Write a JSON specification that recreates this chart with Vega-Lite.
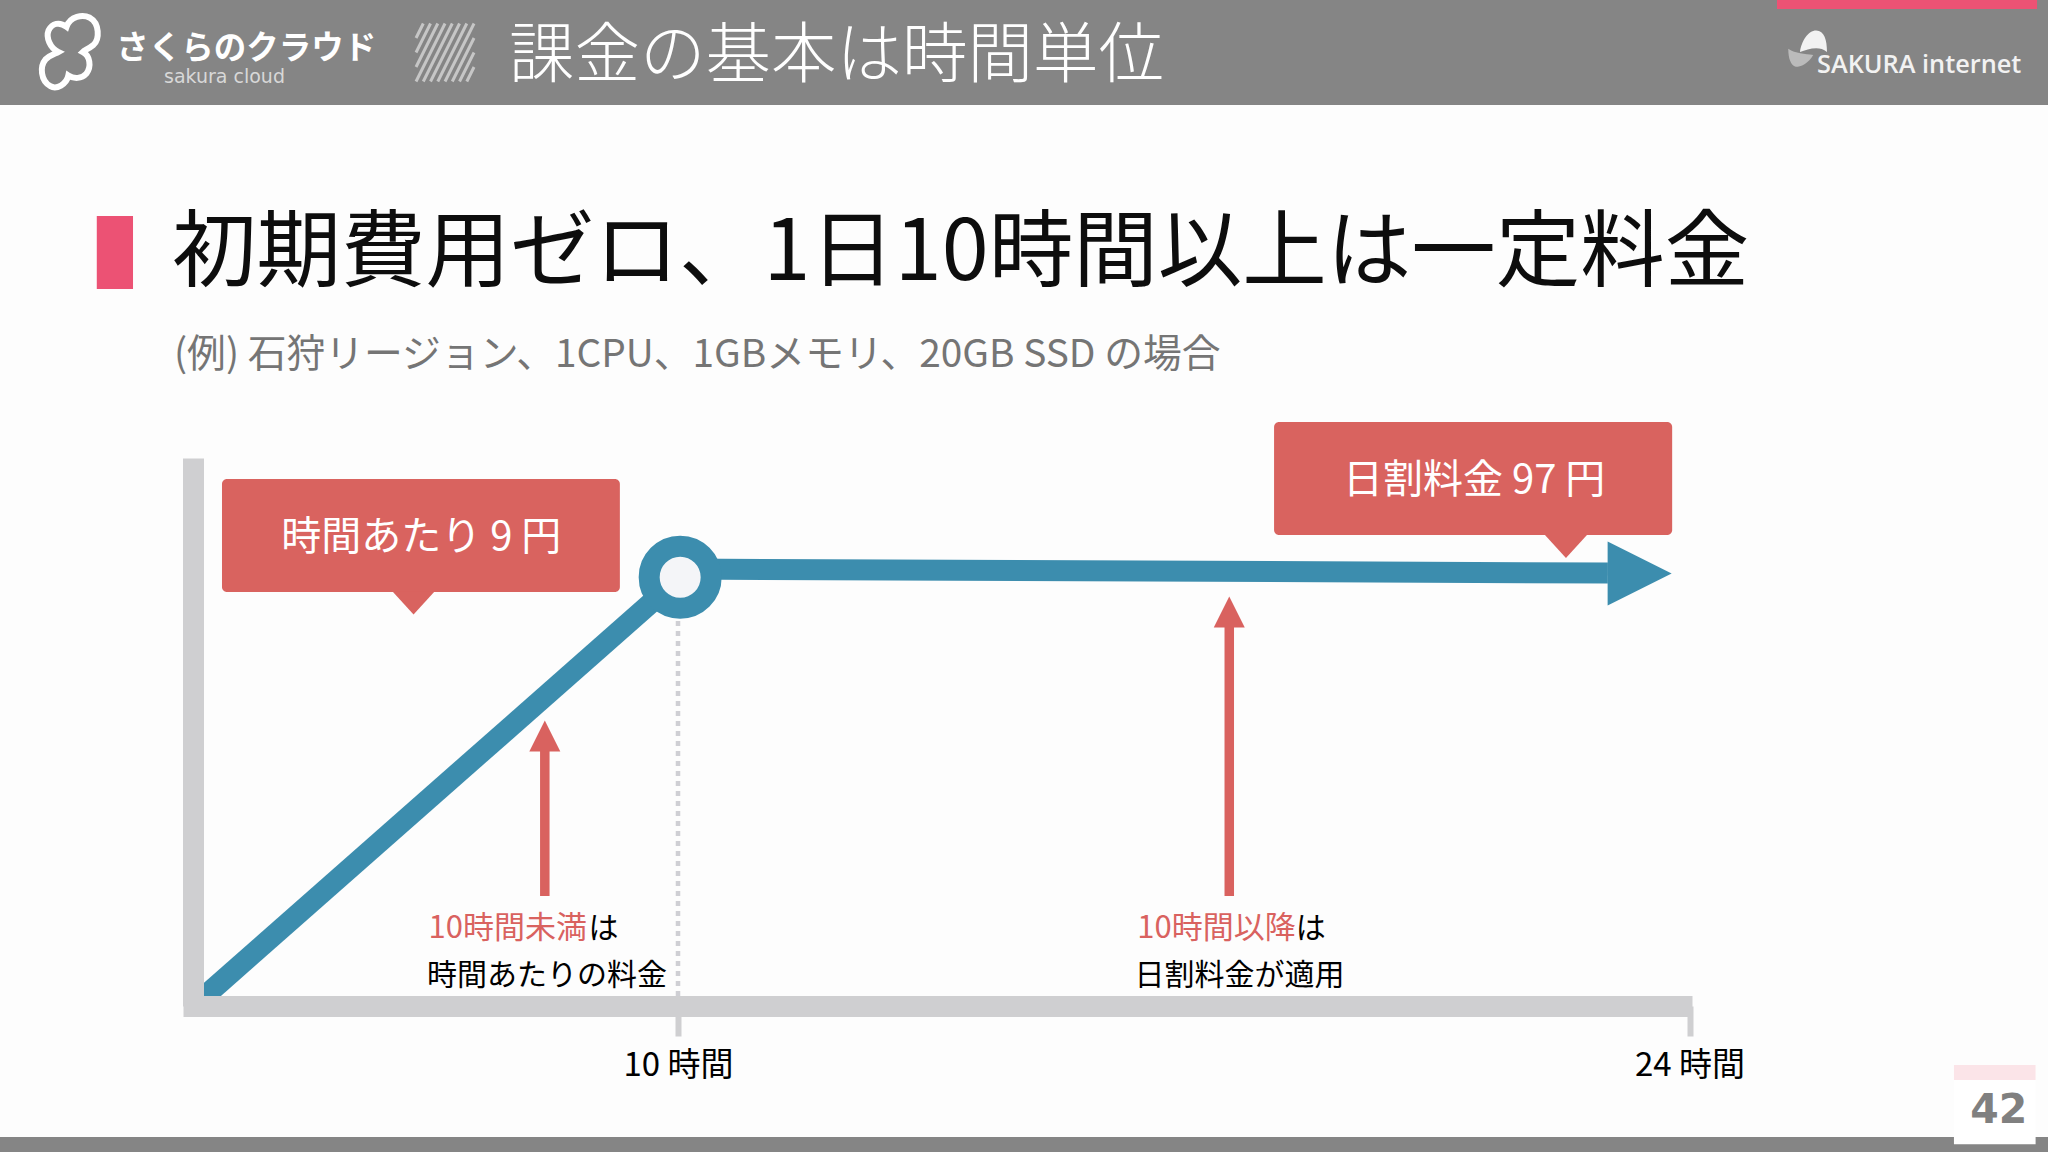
{
  "$schema": "https://vega.github.io/schema/vega-lite/v6.json",
  "width": 1509,
  "height": 548,
  "autosize": "none",
  "padding": {"left": 183, "top": 458, "right": 356, "bottom": 146},
  "background": "#fdfdfd",
  "config": {"view": {"stroke": null}, "text": {"font": "Noto Sans CJK JP"}},
  "encoding": {
    "x": {
      "field": "hours",
      "type": "quantitative",
      "scale": {"domain": [-0.22, 10, 24, 24.0346], "range": [0, 495, 1506.5, 1509]},
      "axis": {
        "title": null, "grid": false, "values": [10, 24], "labelExpr": "datum.value + ' 時間'",
        "domainColor": "#cfcfd1", "domainWidth": 21, "tickColor": "#cfcfd1", "tickWidth": 6, "tickSize": 30,
        "labelFont": "Noto Sans CJK JP", "labelFontSize": 33, "labelColor": "#000000", "labelPadding": 13,
        "labelOverlap": false, "zindex": 1
      }
    },
    "y": {
      "field": "yen",
      "type": "quantitative",
      "scale": {"domain": [0, 115], "range": [548, 0]},
      "axis": {
        "title": null, "grid": false, "values": [], "ticks": false, "labels": false,
        "domainColor": "#cfcfd1", "domainWidth": 21, "offset": -10, "zindex": 1
      }
    }
  },
  "layer": [
    {
      "data": {"values": [
        {"hours": -4, "hours2": 29, "yen": 211.2, "yen2": 189.1},
        {"hours": -4, "hours2": 29, "yen": -27.5, "yen2": -31}
      ]},
      "mark": {"type": "rect", "color": "#858585"},
      "encoding": {"x2": {"field": "hours2"}, "y2": {"field": "yen2"}}
    },
    {
      "data": {"values": [{"hours": 27.66, "hours2": 28.79, "yen": -12.4, "yen2": -29}]},
      "mark": {"type": "rect", "color": "#ffffff"},
      "encoding": {"x2": {"field": "hours2"}, "y2": {"field": "yen2"}}
    },
    {
      "data": {"values": [{"hours": 27.66, "hours2": 28.79, "yen": -12.38, "yen2": -15.53}]},
      "mark": {"type": "rect", "color": "#fbe4e8"},
      "encoding": {"x2": {"field": "hours2"}, "y2": {"field": "yen2"}}
    },
    {
      "data": {"values": [
        {"hours": 25.211, "hours2": 28.81, "yen": 211.2, "yen2": 209.23},
        {"hours": -2.0, "hours2": -1.252, "yen": 165.79, "yen2": 150.47}
      ]},
      "mark": {"type": "rect", "color": "#ec5274"},
      "encoding": {"x2": {"field": "hours2"}, "y2": {"field": "yen2"}}
    },
    {
      "data": {"values": [{"hours": -2.55, "yen": 200.2}]},
      "mark": {
        "type": "point", "filled": false, "opacity": 1, "stroke": "#ffffff", "strokeWidth": 6, "size": 5184,
        "shape": "M-0.1,-0.7C0,-1 0.35,-1.05 0.55,-0.95C0.82,-0.8 0.82,-0.35 0.65,-0.2C0.5,-0.08 0.4,-0.05 0.35,0C0.55,0.1 0.6,0.4 0.45,0.6C0.32,0.75 0.1,0.75 -0.05,0.65C-0.1,0.9 -0.38,1.05 -0.55,0.95C-0.82,0.8 -0.85,0.4 -0.68,0.2C-0.55,0.08 -0.42,0.05 -0.33,0C-0.55,-0.1 -0.68,-0.4 -0.6,-0.6C-0.5,-0.8 -0.3,-0.85 -0.1,-0.7Z"
      }
    },
    {
      "data": {"values": [{"hours": 5.19, "yen": 200.1}]},
      "mark": {
        "type": "point", "filled": false, "opacity": 1, "stroke": "#c6c6c6", "strokeWidth": 3, "size": 3364,
        "shape": "M-1,-0.5L-0.75,-1M-1,0L-0.5,-1M-1,0.5L-0.25,-1M-1,1L0,-1M-0.75,1L0.25,-1M-0.5,1L0.5,-1M-0.25,1L0.75,-1M0,1L1,-1M0.25,1L1,-0.5M0.5,1L1,0M0.75,1L1,0.5"
      }
    },
    {
      "data": {"values": [{"hours": 25.716, "yen": 201.9}]},
      "mark": {
        "type": "point", "filled": true, "opacity": 1, "color": "#f2f2f2", "size": 729,
        "shape": "M-1,0.6C-0.9,-0.2 -0.4,-1 0.2,-1C0.8,-1 1,-0.3 1,0.6C0.4,0.1 -0.4,0.4 -1,0.6Z"
      }
    },
    {
      "data": {"values": [{"hours": 25.54, "yen": 199.06}]},
      "mark": {
        "type": "point", "filled": true, "opacity": 1, "color": "#bbbbbb", "size": 625,
        "shape": "M-1,-0.7C-0.4,-0.3 0.3,-0.3 1,-0.2C0.6,0.5 0,0.75 -0.4,0.75C-0.8,0.6 -1,0.1 -1,-0.7Z"
      }
    },
    {
      "data": {"values": [{"label": "課金の基本は時間単位", "hours": 6.51, "yen": 199.15}]},
      "mark": {"type": "text", "align": "left", "baseline": "middle", "fontSize": 65.5, "fontWeight": 300, "color": "#ffffff"},
      "encoding": {"text": {"field": "label"}}
    },
    {
      "data": {"values": [{"label": "さくらのクラウド", "hours": -1.6, "yen": 200.9}]},
      "mark": {"type": "text", "align": "left", "baseline": "middle", "fontSize": 32.5, "fontWeight": 700, "color": "#ffffff"},
      "encoding": {"text": {"field": "label"}}
    },
    {
      "data": {"values": [{"label": "sakura cloud", "hours": -0.612, "yen": 194.9}]},
      "mark": {"type": "text", "align": "left", "baseline": "middle", "font": "DejaVu Sans", "fontSize": 19, "color": "#d8d8d8"},
      "encoding": {"text": {"field": "label"}}
    },
    {
      "data": {"values": [{"label": "SAKURA internet", "hours": 25.765, "yen": 197.5}]},
      "mark": {"type": "text", "align": "left", "baseline": "middle", "font": "Open Sans", "fontSize": 25.3, "fontWeight": 600, "color": "#f2f2f2"},
      "encoding": {"text": {"field": "label"}}
    },
    {
      "data": {"values": [{"label": "初期費用ゼロ、1日10時間以上は一定料金", "hours": -0.448, "yen": 157.6}]},
      "mark": {"type": "text", "align": "left", "baseline": "middle", "fontSize": 84.5, "color": "#0d0d0d"},
      "encoding": {"text": {"field": "label"}}
    },
    {
      "data": {"values": [{"label": "(例) 石狩リージョン、1CPU、1GBメモリ、20GB SSD の場合", "hours": -0.406, "yen": 136.6}]},
      "mark": {"type": "text", "align": "left", "baseline": "middle", "fontSize": 38.8, "color": "#757575"},
      "encoding": {"text": {"field": "label"}}
    },
    {
      "data": {"values": [{"hours": 10, "yen": 2.1, "yen2": 81}]},
      "mark": {"type": "rule", "color": "#cfcfd4", "strokeWidth": 4.5, "strokeDash": [5, 5]},
      "encoding": {"y2": {"field": "yen2"}}
    },
    {
      "data": {"values": [
        {"segment": "hourly", "hours": 0, "yen": 0},
        {"segment": "hourly", "hours": 10.03, "yen": 90},
        {"segment": "daily", "hours": 10.03, "yen": 91.7},
        {"segment": "daily", "hours": 22.87, "yen": 90.87}
      ]},
      "mark": {"type": "line", "color": "#3c8dae", "strokeWidth": 21, "strokeCap": "butt"},
      "encoding": {"detail": {"field": "segment"}}
    },
    {
      "data": {"values": [{"hours": 23.31, "yen": 90.77}]},
      "mark": {"type": "point", "filled": true, "opacity": 1, "color": "#3c8dae", "size": 4096, "shape": "M-1,-1L1,0L-1,1Z"}
    },
    {
      "data": {"values": [{"hours": 10.03, "yen": 90}]},
      "mark": {"type": "point", "filled": true, "opacity": 1, "fill": "#f4f5f8", "stroke": "#3c8dae", "strokeWidth": 21, "size": 3844, "shape": "circle"}
    },
    {
      "data": {"values": [
        {"hours": 0.585, "hours2": 8.8, "yen": 110.6, "yen2": 86.88},
        {"hours": 18.25, "hours2": 23.76, "yen": 122.56, "yen2": 98.85}
      ]},
      "mark": {"type": "rect", "color": "#d9635f", "cornerRadius": 5},
      "encoding": {"x2": {"field": "hours2"}, "y2": {"field": "yen2"}}
    },
    {
      "data": {"values": [{"hours": 4.54, "yen": 84.57}, {"hours": 22.29, "yen": 96.43}]},
      "mark": {"type": "point", "filled": true, "opacity": 1, "color": "#d9635f", "size": 1764, "shape": "M-1,-0.55L1,-0.55L0,0.55Z"}
    },
    {
      "data": {"values": [
        {"label": "時間あたり 9 円", "hours": 4.7, "yen": 98.2},
        {"label": "日割料金 97 円", "hours": 21.02, "yen": 110.2}
      ]},
      "mark": {"type": "text", "align": "center", "baseline": "middle", "fontSize": 40, "color": "#ffffff"},
      "encoding": {"text": {"field": "label"}}
    },
    {
      "data": {"values": [
        {"hours": 7.25, "yen": 23.1, "yen2": 56},
        {"hours": 17.63, "yen": 23.1, "yen2": 80}
      ]},
      "mark": {"type": "rule", "color": "#d9625f", "strokeWidth": 9.5},
      "encoding": {"y2": {"field": "yen2"}}
    },
    {
      "data": {"values": [{"hours": 7.25, "yen": 56.66}, {"hours": 17.63, "yen": 82.69}]},
      "mark": {"type": "point", "filled": true, "opacity": 1, "color": "#d9625f", "size": 961, "shape": "M0,-1L1,1L-1,1Z"}
    },
    {
      "data": {"values": [
        {"label": "10時間未満", "hours": 8.12, "yen": 16.1},
        {"label": "10時間以降", "hours": 18.55, "yen": 16.1}
      ]},
      "mark": {"type": "text", "align": "right", "baseline": "middle", "fontSize": 31, "color": "#d9625f"},
      "encoding": {"text": {"field": "label"}}
    },
    {
      "data": {"values": [
        {"label": "は", "hours": 8.15, "yen": 16.1},
        {"label": "は", "hours": 18.55, "yen": 16.1},
        {"label": "時間あたりの料金", "hours": 4.82, "yen": 6.4},
        {"label": "日割料金が適用", "hours": 16.32, "yen": 6.4}
      ]},
      "mark": {"type": "text", "align": "left", "baseline": "middle", "fontSize": 30, "color": "#000000"},
      "encoding": {"text": {"field": "label"}}
    },
    {
      "data": {"values": [{"label": "42", "hours": 28.28, "yen": -22.05}]},
      "mark": {"type": "text", "align": "center", "baseline": "middle", "font": "DejaVu Sans", "fontSize": 41, "fontWeight": 700, "color": "#808080"},
      "encoding": {"text": {"field": "label"}}
    }
  ]
}
